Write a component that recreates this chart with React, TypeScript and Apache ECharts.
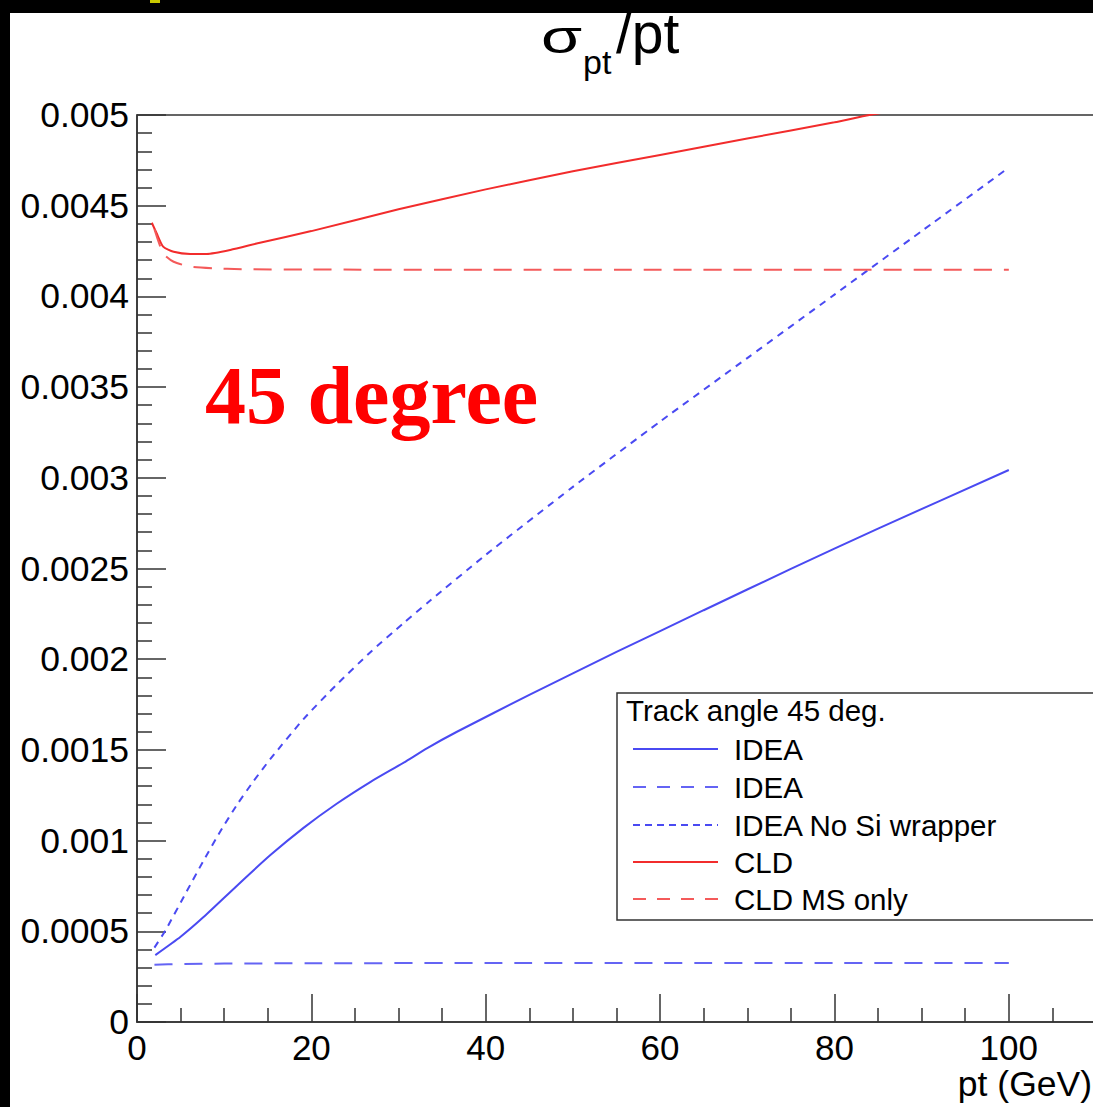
import React, { useEffect, useRef } from "react";
import * as echarts from "echarts";

// ---- data (pt in GeV, sigma_pt/pt) ----
const ideaPt = [2.1, 5.0, 7.6, 11.5, 15.3, 19.1, 22.9, 26.8, 30.6, 33.3, 36.7, 45, 55, 65, 75, 85, 100];
const ideaVal = [0.000369, 0.00047, 0.000577, 0.000753, 0.00092, 0.00107, 0.001203, 0.001324, 0.00143, 0.00151, 0.0016, 0.001803, 0.00204, 0.00227, 0.002498, 0.00272, 0.003043];

const ideaMsPt = [2, 5, 10, 20, 40, 60, 80, 100];
const ideaMsVal = [0.000315, 0.00032, 0.000322, 0.000324, 0.000325, 0.000325, 0.000325, 0.000325];

const noSiPt = [2, 3.25, 5.7, 7.6, 9.55, 11.5, 13.4, 15.3, 19.1, 22.9, 26.8, 30.6, 33.3, 40, 50, 60, 70, 80, 90, 100];
const noSiVal = [0.00041, 0.000504, 0.00072, 0.000887, 0.00105, 0.0012, 0.00133, 0.00145, 0.00167, 0.00186, 0.00204, 0.0022, 0.00231, 0.002575, 0.00295, 0.00331, 0.00366, 0.00401, 0.00436, 0.00471];

const cldPt = [1.7, 2.25, 3.0, 4.2, 6.1, 8.0, 10.7, 14.1, 20, 30, 40, 50, 60, 70, 80, 84, 90, 100];
const cldVal = [0.004406, 0.004348, 0.004274, 0.004246, 0.004234, 0.004234, 0.004256, 0.004296, 0.00436, 0.00448, 0.00459, 0.00469, 0.00478, 0.00487, 0.00496, 0.005, 0.00505, 0.00514];

const cldMsPt = [2.0, 3.0, 4.2, 6.1, 8.7, 12, 20, 40, 60, 80, 100];
const cldMsVal = [0.00437, 0.004237, 0.004191, 0.004164, 0.004155, 0.00415, 0.004148, 0.004147, 0.004147, 0.004147, 0.004147];

const legendTitle = "Track angle 45 deg.";
const legendLabels = ["IDEA", "IDEA", "IDEA No Si wrapper", "CLD", "CLD MS only"];

const zip = (xs: number[], ys: number[]) => xs.map((x, i) => [x, ys[i]]);

const SANS = "'Liberation Sans', Arial, Helvetica, sans-serif";
const SERIF = "'Liberation Serif', 'Times New Roman', serif";

const BLUE = "#4a4af2";
const BLUE_L = "#6464f4";
const RED = "#f22c2c";
const RED_L = "#f45a5a";

export default function App() {
  const ref = useRef<HTMLDivElement>(null);

  useEffect(() => {
    if (!ref.current) return;
    const chart = echarts.init(ref.current, null, { renderer: "svg" });

    const styles = [
      { color: BLUE, type: "solid" as any },
      { color: BLUE_L, type: [18, 12] as any },
      { color: BLUE, type: [7, 6] as any },
      { color: RED, type: "solid" as any },
      { color: RED_L, type: [18, 12] as any },
    ];
    const datasets = [
      zip(ideaPt, ideaVal),
      zip(ideaMsPt, ideaMsVal),
      zip(noSiPt, noSiVal),
      zip(cldPt, cldVal),
      zip(cldMsPt, cldMsVal),
    ];

    // chart coords: x = page x - 10, y = page y
    const legX = 607;
    const legY = 693;
    const rowY = [749, 787, 825, 862, 899];
    const legendGraphics: any[] = [
      {
        type: "rect",
        z: 100,
        shape: { x: legX, y: legY, width: 600, height: 227 },
        style: { fill: "#fff", stroke: "#333", lineWidth: 1.5 },
      },
      {
        type: "text",
        z: 101,
        x: 616,
        y: 710,
        style: { text: legendTitle, font: `29.5px ${SANS}`, fill: "#000", align: "left", verticalAlign: "middle" },
      },
    ];
    legendLabels.forEach((lab, i) => {
      legendGraphics.push({
        type: "line",
        z: 101,
        shape: { x1: 623, y1: rowY[i], x2: 708, y2: rowY[i] },
        style: { stroke: styles[i].color, lineWidth: 2, lineDash: Array.isArray(styles[i].type) ? (i === 2 ? [7, 5] : [13, 11]) : null },
      });
      legendGraphics.push({
        type: "text",
        z: 101,
        x: 724,
        y: rowY[i],
        style: { text: lab, font: `29.5px ${SANS}`, fill: "#000", align: "left", verticalAlign: "middle" },
      });
    });

    chart.setOption({
      animation: false,
      backgroundColor: "#fff",
      grid: {
        left: 127,
        top: 115,
        width: 959,
        height: 907,
        show: true,
        borderColor: "#333",
        borderWidth: 1.5,
        containLabel: false,
      },
      xAxis: {
        type: "value",
        min: 0,
        max: 110,
        interval: 20,
        axisLine: { show: true, lineStyle: { color: "#333", width: 1.5 } },
        axisTick: { show: true, inside: true, length: 28, lineStyle: { color: "#333", width: 1.5 } },
        minorTick: { show: true, splitNumber: 4, length: 14, lineStyle: { color: "#333", width: 1.5 } },
        splitLine: { show: false },
        axisLabel: {
          margin: 8,
          fontSize: 35,
          fontFamily: SANS,
          color: "#000",
          formatter: (v: number) => (v > 100 ? "" : String(v)),
        },
      },
      yAxis: {
        type: "value",
        min: 0,
        max: 0.005,
        interval: 0.0005,
        axisLine: { show: true, lineStyle: { color: "#333", width: 1.5 } },
        axisTick: { show: true, inside: true, length: 29, lineStyle: { color: "#333", width: 1.5 } },
        minorTick: { show: true, splitNumber: 5, length: 15, lineStyle: { color: "#333", width: 1.5 } },
        splitLine: { show: false },
        axisLabel: {
          margin: 8,
          fontSize: 35.5,
          fontFamily: SANS,
          color: "#000",
          formatter: (v: number) => (v === 0 ? "0" : String(parseFloat(v.toFixed(4)))),
        },
      },
      series: datasets.map((d, i) => ({
        type: "line",
        name: legendLabels[i] + "#" + i,
        data: d,
        showSymbol: false,
        symbol: "none",
        smooth: 0.2,
        clip: true,
        lineStyle: { color: styles[i].color, width: 2, type: styles[i].type },
        z: 5 + i,
      })),
      graphic: [
        {
          type: "rect",
          z: 0,
          shape: { x: -20, y: 0, width: 1200, height: 13 },
          style: { fill: "#000" },
        },
        {
          type: "rect",
          z: 1,
          shape: { x: 140, y: 0, width: 10, height: 3 },
          style: { fill: "#c8c800" },
        },
        {
          type: "text",
          z: 10,
          x: 531,
          y: 37,
          scaleX: 1.45,
          style: { text: "σ", font: `46px ${SANS}`, fill: "#000", align: "left", verticalAlign: "middle" },
        },
        {
          type: "text",
          z: 10,
          x: 573,
          y: 62,
          style: { text: "pt", font: `34px ${SANS}`, fill: "#000", align: "left", verticalAlign: "middle" },
        },
        {
          type: "text",
          z: 10,
          x: 606,
          y: 33,
          style: { text: "/pt", font: `57px ${SANS}`, fill: "#000", align: "left", verticalAlign: "middle" },
        },
        {
          type: "text",
          z: 10,
          x: 1082,
          y: 1084,
          style: { text: "pt (GeV)", font: `35.5px ${SANS}`, fill: "#000", align: "right", verticalAlign: "middle" },
        },
        {
          type: "text",
          x: 195,
          y: 395,
          z: 50,
          style: { text: "45 degree", font: `bold 82px ${SERIF}`, fill: "#ff0000", align: "left", verticalAlign: "middle" },
        },
        ...legendGraphics,
      ],
    });

    return () => chart.dispose();
  }, []);

  return (
    <div style={{ position: "fixed", left: 0, top: 0, width: 1093, height: 1107, background: "#000", overflow: "hidden" }}>
      <div ref={ref} style={{ position: "absolute", left: 10, top: 0, width: 1090, height: 1107 }} />
    </div>
  );
}
